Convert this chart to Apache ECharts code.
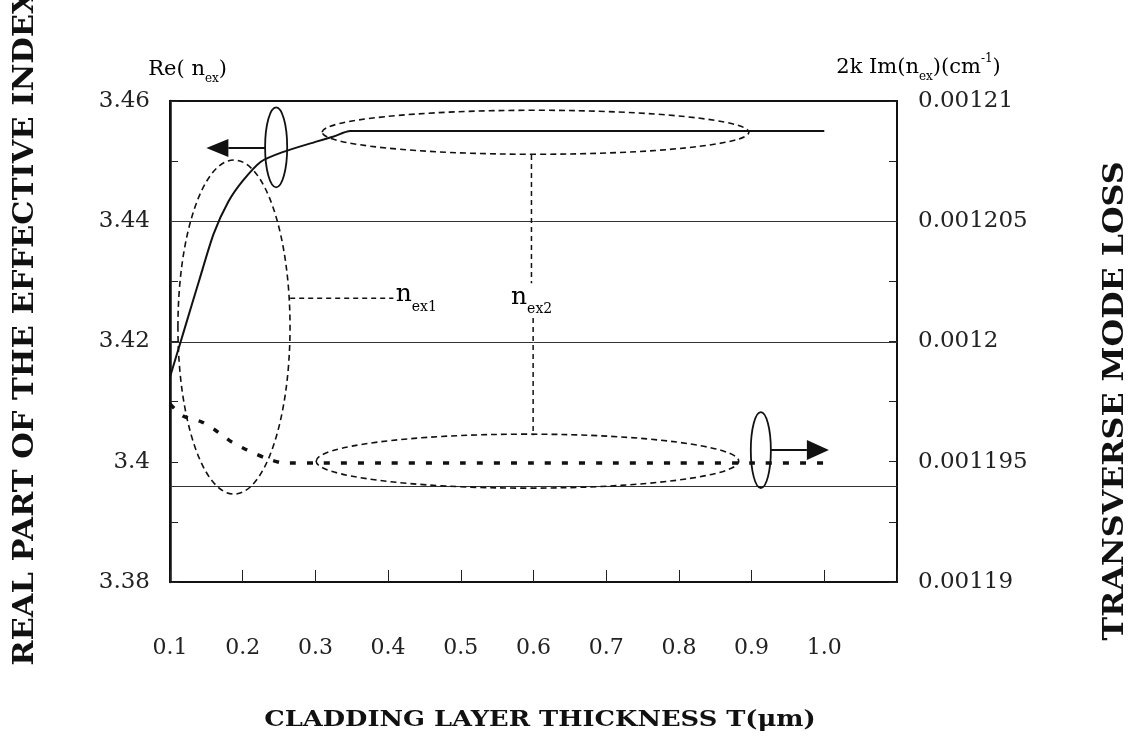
<!DOCTYPE html>
<html>
<head>
<meta charset="utf-8">
<script src="https://cdn.jsdelivr.net/npm/echarts@6/dist/echarts.min.js"></script>
<style>
  html, body { margin: 0; padding: 0; background: #ffffff; }
  #chart { width: 1134px; height: 739px; }
</style>
</head>
<body>
<div id="chart"></div>
<script>
// Real part of the effective index vs. cladding layer thickness (left axis)
const reT     = [0.100, 0.120, 0.140, 0.160, 0.180, 0.200, 0.225, 0.255, 0.300, 0.325, 0.348, 0.40, 0.50, 0.60, 0.70, 0.80, 0.90, 1.00];
const reIndex = [3.4141, 3.4221, 3.4301, 3.4379, 3.4432, 3.4467, 3.4499, 3.4515, 3.4532, 3.4541, 3.4550, 3.4550, 3.4550, 3.4550, 3.4550, 3.4550, 3.4550, 3.4550];

// Transverse mode loss 2k Im(n_ex) vs. cladding layer thickness (right axis)
const lossT     = [0.100, 0.118, 0.144, 0.162, 0.185, 0.206, 0.231, 0.256, 0.30, 0.40, 0.50, 0.60, 0.70, 0.80, 0.90, 1.00];
const modeLoss  = [0.0011974, 0.0011969, 0.00119665, 0.00119632, 0.00119582, 0.00119549, 0.00119516, 0.00119495, 0.00119495, 0.00119495, 0.00119495, 0.00119495, 0.00119495, 0.00119495, 0.00119495, 0.00119495];

// Tick labels
const xTickLabels    = ['0.1', '0.2', '0.3', '0.4', '0.5', '0.6', '0.7', '0.8', '0.9', '1.0'];
const reTickLabels   = ['3.38', '3.4', '3.42', '3.44', '3.46'];
const lossTickLabels = ['0.00119', '0.001195', '0.0012', '0.001205', '0.00121'];

// Horizontal rules across the plot (left-axis values)
const gridLineValues = [3.44, 3.42, 3.396];

const pairs = (xs, ys) => xs.map((x, i) => [x, ys[i]]);

const chart = echarts.init(document.getElementById('chart'), null, { renderer: 'canvas' });

const tickFont = { fontFamily: 'DejaVu Serif', fontSize: 23, color: '#222' };

chart.setOption({
  backgroundColor: '#ffffff',
  animation: false,
  grid: {
    left: 170, right: 237, top: 101, bottom: 157,
    show: true, borderColor: '#111', borderWidth: 2, backgroundColor: 'transparent'
  },
  xAxis: {
    type: 'value', min: 0.1, max: 1.1, interval: 0.1,
    axisLine: { show: true, lineStyle: { color: '#111', width: 2 } },
    axisTick: { show: true, inside: true, length: 12, lineStyle: { color: '#222', width: 1 } },
    splitLine: { show: false },
    axisLabel: {
      ...tickFont, fontSize: 22, margin: 55,
      formatter: v => xTickLabels[Math.round((v - 0.1) / 0.1)] ?? ''
    }
  },
  yAxis: [
    {
      type: 'value', position: 'left', min: 3.38, max: 3.46, interval: 0.02,
      axisLine: { show: true, lineStyle: { color: '#111', width: 2.5 } },
      axisTick: { show: true, inside: true, length: 8, lineStyle: { color: '#222' } },
      minorTick: { show: true, splitNumber: 2, length: 8, lineStyle: { color: '#222' } },
      splitLine: { show: false },
      axisLabel: {
        ...tickFont, margin: 20,
        formatter: v => reTickLabels[Math.round((v - 3.38) / 0.02)] ?? ''
      }
    },
    {
      type: 'value', position: 'right', min: 0.00119, max: 0.00121, interval: 0.000005,
      axisLine: { show: true, lineStyle: { color: '#111', width: 2 } },
      axisTick: { show: true, inside: true, length: 8, lineStyle: { color: '#222' } },
      minorTick: { show: true, splitNumber: 2, length: 8, lineStyle: { color: '#222' } },
      splitLine: { show: false },
      axisLabel: {
        ...tickFont, margin: 21,
        formatter: v => lossTickLabels[Math.round((v - 0.00119) / 0.000005)] ?? ''
      }
    }
  ],
  series: [
    {
      name: 'Re(n_ex)', type: 'line', xAxisIndex: 0, yAxisIndex: 0,
      data: pairs(reT, reIndex), showSymbol: false, smooth: 0.25,
      lineStyle: { color: '#111', width: 2 },
      z: 3
    },
    {
      name: '2k Im(n_ex)', type: 'line', xAxisIndex: 0, yAxisIndex: 1,
      data: pairs(lossT, modeLoss), showSymbol: false, smooth: 0.2,
      lineStyle: { color: '#111', width: 3.5, type: [6, 11] },
      z: 3
    }
  ]
});

// Annotation shapes, placed in data units (thickness, left-axis index)
const ellipses = [
  { cx: 0.246,  cy: 3.4523,  rx: 0.0152, ry: 0.00665, dashed: false },
  { cx: 0.9127, cy: 3.40195, rx: 0.0138, ry: 0.00632, dashed: false },
  { cx: 0.188,  cy: 3.4224,  rx: 0.0771, ry: 0.02778, dashed: true },
  { cx: 0.6028, cy: 3.4548,  rx: 0.2934, ry: 0.00366, dashed: true },
  { cx: 0.5917, cy: 3.4001,  rx: 0.2906, ry: 0.00449, dashed: true }
];
const arrows = [
  { from: [0.231, 3.4522],   to: [0.150, 3.4522],   head: 22, half: 9 },
  { from: [0.9265, 3.40195], to: [1.0063, 3.40195], head: 22, half: 10 }
];
const leaders = [
  [[0.2653, 3.4272], [0.4072, 3.4272]],
  [[0.5972, 3.4510], [0.5972, 3.4297]],
  [[0.5995, 3.4239], [0.5995, 3.4044]]
];

const toPx = p => chart.convertToPixel({ xAxisIndex: 0, yAxisIndex: 0 }, p);
const graphics = [];

// Horizontal rules spanning the plot width
gridLineValues.forEach(v => {
  const a = toPx([0.1, v]), b = toPx([1.1, v]);
  graphics.push({
    type: 'line', z: 1, silent: true,
    shape: { x1: a[0], y1: Math.round(a[1]) + 0.5, x2: b[0], y2: Math.round(b[1]) + 0.5 },
    style: { stroke: '#333', lineWidth: 1 }
  });
});

ellipses.forEach(e => {
  const c = toPx([e.cx, e.cy]);
  const rx = toPx([e.cx + e.rx, e.cy])[0] - c[0];
  const ry = c[1] - toPx([e.cx, e.cy + e.ry])[1];
  graphics.push({
    type: 'ellipse', z: 10, silent: true,
    shape: { cx: c[0], cy: c[1], rx, ry },
    style: { fill: null, stroke: '#111', lineWidth: e.dashed ? 1.6 : 1.8, lineDash: e.dashed ? [6, 4] : null }
  });
});

arrows.forEach(a => {
  const p0 = toPx(a.from), p1 = toPx(a.to);
  const dir = Math.sign(p1[0] - p0[0]);
  const base = p1[0] - dir * a.head;
  graphics.push({
    type: 'line', z: 10, silent: true,
    shape: { x1: p0[0], y1: p0[1], x2: base, y2: p1[1] },
    style: { stroke: '#111', lineWidth: 2 }
  });
  graphics.push({
    type: 'polygon', z: 10, silent: true,
    shape: { points: [[p1[0], p1[1]], [base, p1[1] - a.half], [base, p1[1] + a.half]] },
    style: { fill: '#111' }
  });
});

leaders.forEach(l => {
  const p0 = toPx(l[0]), p1 = toPx(l[1]);
  graphics.push({
    type: 'line', z: 10, silent: true,
    shape: { x1: p0[0], y1: p0[1], x2: p1[0], y2: p1[1] },
    style: { stroke: '#111', lineWidth: 1.5, lineDash: [5, 4] }
  });
});

const subRich = {
  h: { fontSize: 1, lineHeight: 32 },
  b: { fontFamily: 'DejaVu Serif', fontSize: 25, lineHeight: 24, verticalAlign: 'top', color: '#111' },
  s: { fontFamily: 'DejaVu Serif', fontSize: 14, lineHeight: 14, verticalAlign: 'bottom', color: '#111' }
};
const nex1 = toPx([0.41, 3.4272]);
graphics.push({
  type: 'text', z: 11, silent: true, x: nex1[0], y: nex1[1],
  style: { text: '{h| }{b|n}{s|ex1}', rich: subRich, align: 'left', verticalAlign: 'middle' }
});
const nex2 = toPx([0.5972, 3.4268]);
graphics.push({
  type: 'text', z: 11, silent: true, x: nex2[0], y: nex2[1],
  style: { text: '{h| }{b|n}{s|ex2}', rich: subRich, align: 'center', verticalAlign: 'middle' }
});

// Axis captions
const capRich = {
  h: { fontSize: 1, lineHeight: 30 },
  b: { fontFamily: 'DejaVu Serif', fontSize: 21, lineHeight: 22, verticalAlign: 'middle', color: '#111' },
  s: { fontFamily: 'DejaVu Serif', fontSize: 12, lineHeight: 12, verticalAlign: 'bottom', color: '#111' },
  u: { fontFamily: 'DejaVu Serif', fontSize: 12, lineHeight: 12, verticalAlign: 'top', color: '#111' }
};
graphics.push({
  type: 'text', silent: true, x: 148, y: 70,
  style: { text: '{h| }{b|Re( n}{s|ex}{b|)}', rich: capRich, align: 'left', verticalAlign: 'middle' }
});
graphics.push({
  type: 'text', silent: true, x: 836, y: 68,
  style: { text: '{h| }{b|2k Im(n}{s|ex}{b|)(cm}{u|-1}{b|)}', rich: capRich, align: 'left', verticalAlign: 'middle' }
});

const titleFont = { fontFamily: 'DejaVu Serif', fontWeight: 'bold', fill: '#111' };
graphics.push({
  type: 'text', silent: true, x: 26, y: 328, rotation: Math.PI / 2, scaleX: 1.09,
  style: { ...titleFont, text: 'REAL PART OF THE EFFECTIVE INDEX', fontSize: 28, align: 'center', verticalAlign: 'middle' }
});
graphics.push({
  type: 'text', silent: true, x: 1116, y: 401, rotation: Math.PI / 2, scaleX: 1.13,
  style: { ...titleFont, text: 'TRANSVERSE MODE LOSS', fontSize: 28, align: 'center', verticalAlign: 'middle' }
});
graphics.push({
  type: 'text', silent: true, x: 540, y: 720, scaleX: 1.17,
  style: { ...titleFont, text: 'CLADDING LAYER THICKNESS T(\u03bcm)', fontSize: 22, align: 'center', verticalAlign: 'middle' }
});

chart.setOption({ graphic: graphics });
</script>
</body>
</html>
